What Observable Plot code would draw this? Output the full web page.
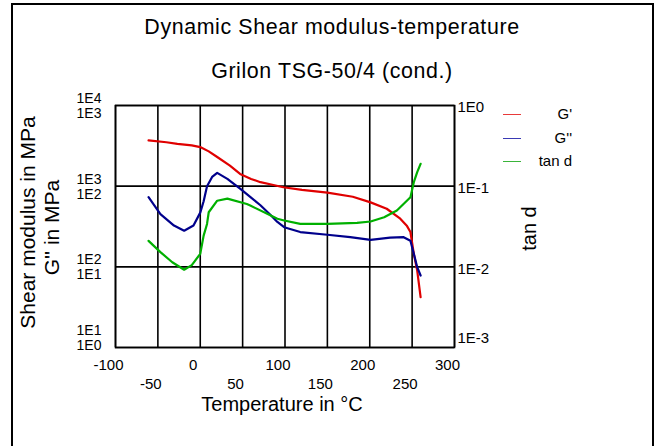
<!DOCTYPE html>
<html>
<head>
<meta charset="utf-8">
<script src="https://cdn.jsdelivr.net/npm/d3@7"></script>
<script src="https://cdn.jsdelivr.net/npm/@observablehq/plot@0.6"></script>
<style>
  body { margin: 0; background: #fff; }
  #wrap { position: relative; width: 660px; height: 446px; overflow: hidden; background: #fff;
          font-family: "Liberation Sans", Arial, sans-serif; color: #000; }
  #border { position: absolute; left: 11px; top: 3px; width: 639px; height: 470px; border: 2px solid #000; }
  .ttl { position: absolute; left: 0; width: 664px; text-align: center; font-size: 21.4px; letter-spacing: 0.6px; }
  #chart { position: absolute; left: 0; top: 85px; }
  .leg { position: absolute; left: 500px; width: 72px; height: 18px; font-size: 15px; }
  .leg span { position: absolute; right: 0; top: 0; }
  .leg i { position: absolute; left: 3px; top: 9px; width: 18px; height: 1px; }
</style>
</head>
<body>
<div id="wrap">
  <div id="border"></div>
  <div class="ttl" style="top:15px">Dynamic Shear modulus-temperature</div>
  <div class="ttl" style="top:59px">Grilon TSG-50/4 (cond.)</div>
  <div id="chart"></div>
  <div id="legend"></div>
</div>
<script>
// ---- data ----
const gpTemp = [-61, -40, -27, -10, 0, 10, 20, 35, 47, 60, 71, 85, 98, 120, 150, 180, 201, 220, 236, 244, 248, 252, 256, 260];
const gpValues = [3700, 3500, 3350, 3200, 3050, 2700, 2300, 1800, 1420, 1230, 1120, 1040, 970, 900, 830, 740, 630, 525, 395, 320, 270, 145, 90, 42];

const gppTemp = [-61, -47, -31, -19, -8, 0, 4, 8, 14, 20, 32, 47, 60, 71, 83, 91, 99, 118, 150, 177, 201, 224, 240, 248, 252, 256, 260];
const gppValues = [73, 45, 32.5, 28, 32.5, 47, 65, 100, 130, 146, 123, 93, 72, 58, 44, 36, 31, 27, 25, 23.3, 21.6, 23, 23.3, 21, 14.5, 9.9, 7.8];

const tandTemp = [-61, -47, -33, -19, -10, 0, 4, 8, 10, 20, 32, 55, 59, 79, 91, 99, 118, 150, 185, 201, 217, 232, 248, 252, 256, 260];
const tandValues = [0.021, 0.0152, 0.0114, 0.0092, 0.0105, 0.0145, 0.0244, 0.034, 0.0475, 0.066, 0.070, 0.060, 0.0575, 0.0454, 0.0394, 0.0375, 0.0341, 0.0341, 0.0351, 0.0365, 0.0412, 0.050, 0.073, 0.112, 0.149, 0.189];

const xTicksRow1 = [-100, 0, 100, 200, 300];
const xTicksRow2 = [-50, 50, 150, 250];
const xGrid = [-100, -50, 0, 50, 100, 150, 200, 250, 300];
const gpTicks = [10000, 1000, 100, 10];
const gpTickLabels = ["1E4", "1E3", "1E2", "1E1"];
const gppTicks = [1000, 100, 10, 1];
const gppTickLabels = ["1E3", "1E2", "1E1", "1E0"];
const tandTicks = [1, 0.1, 0.01, 0.001];
const tandTickLabels = ["1E0", "1E-1", "1E-2", "1E-3"];

const seriesNames = ["G'", "G''", "tan d"];
const seriesColors = ["#e00000", "#00008c", "#00b000"];
const legendColors = ["#e83a3a", "#3a3ab4", "#3ab43a"];

// G'' and tan d are drawn against their own decades, shifted onto the G' log axis
const gppShift = 10, tandShift = 10000;

const gp = gpTemp.map((t, i) => ({t, v: gpValues[i]}));
const gpp = gppTemp.map((t, i) => ({t, v: gppValues[i]}));
const tand = tandTemp.map((t, i) => ({t, v: tandValues[i]}));

const fs = "15px";
const fsl = "14px";
const leftUpper = gpTicks.map((v, i) => ({v, label: gpTickLabels[i]}));
const leftLower = gppTicks.map((v, i) => ({v: v * gppShift, label: gppTickLabels[i]}));
const right = tandTicks.map((v, i) => ({v: v * tandShift, label: tandTickLabels[i]}));

const chart = Plot.plot({
  width: 660,
  height: 361,
  marginLeft: 115,
  marginRight: 206,
  marginTop: 20,
  marginBottom: 99,
  style: {fontFamily: "'Liberation Sans', Arial, sans-serif", fontSize: fs, color: "#000", background: "transparent", overflow: "visible"},
  x: {domain: [-100, 300], axis: null},
  y: {type: "log", domain: [10, 10000], axis: null},
  marks: [
    Plot.ruleX(xGrid, {stroke: "#000", strokeWidth: 1.6}),
    Plot.ruleY(gpTicks, {stroke: "#000", strokeWidth: 1.6}),
    Plot.frame({stroke: "#000", strokeWidth: 1.6}),
    Plot.line(gp, {x: "t", y: "v", stroke: seriesColors[0], strokeWidth: 2.2}),
    Plot.line(gpp, {x: "t", y: d => d.v * gppShift, stroke: seriesColors[1], strokeWidth: 2.2}),
    Plot.line(tand, {x: "t", y: d => d.v * tandShift, stroke: seriesColors[2], strokeWidth: 2.2}),
    // left tick labels (two scales stacked)
    Plot.text(leftUpper.slice(0, 3), {y: "v", text: "label", frameAnchor: "left", textAnchor: "end", lineAnchor: "middle", dx: -14, dy: -7, fontSize: fsl}),
    Plot.text(leftLower.slice(0, 3), {y: "v", text: "label", frameAnchor: "left", textAnchor: "end", lineAnchor: "middle", dx: -14, dy: 8, fontSize: fsl}),
    Plot.text(leftUpper.slice(3), {y: "v", text: "label", frameAnchor: "left", textAnchor: "end", lineAnchor: "middle", dx: -14, dy: -17, fontSize: fsl}),
    Plot.text(leftLower.slice(3), {y: "v", text: "label", frameAnchor: "left", textAnchor: "end", lineAnchor: "middle", dx: -14, dy: -2, fontSize: fsl}),
    // right tick labels
    Plot.text(right.slice(0, 3), {y: "v", text: "label", frameAnchor: "right", textAnchor: "start", lineAnchor: "middle", dx: 3, dy: 2, fontSize: fs}),
    Plot.text(right.slice(3), {y: "v", text: "label", frameAnchor: "right", textAnchor: "start", lineAnchor: "middle", dx: 3, dy: -9, fontSize: fs}),
    // x tick labels, two rows
    Plot.text(xTicksRow1, {x: d => d, text: d => String(d), frameAnchor: "bottom", textAnchor: "middle", lineAnchor: "middle", dx: -7, dy: 18, fontSize: fs}),
    Plot.text(xTicksRow2, {x: d => d, text: d => String(d), frameAnchor: "bottom", textAnchor: "middle", lineAnchor: "middle", dx: -7, dy: 37, fontSize: fs}),
    // axis titles
    Plot.text(["Temperature in °C"], {frameAnchor: "bottom", textAnchor: "middle", lineAnchor: "middle", dx: -3, dy: 57, fontSize: "20px"}),
    Plot.text(["Shear modulus in MPa"], {frameAnchor: "left", textAnchor: "middle", lineAnchor: "middle", rotate: -90, dx: -87, dy: -4, fontSize: "21px"}),
    Plot.text(["G'' in MPa"], {frameAnchor: "left", textAnchor: "middle", lineAnchor: "middle", rotate: -90, dx: -63, dy: 1, fontSize: "21px"}),
    Plot.text(["tan d"], {frameAnchor: "right", textAnchor: "middle", lineAnchor: "middle", rotate: -90, dx: 75, dy: 2, fontSize: "20px"})
  ]
});
document.getElementById("chart").appendChild(chart);

// legend
const legend = document.getElementById("legend");
const legTops = [105, 129, 152];
seriesNames.forEach((name, i) => {
  const row = document.createElement("div");
  row.className = "leg";
  row.style.top = legTops[i] + "px";
  const sw = document.createElement("i");
  sw.style.background = legendColors[i];
  const lab = document.createElement("span");
  lab.textContent = name;
  row.appendChild(sw);
  row.appendChild(lab);
  legend.appendChild(row);
});
</script>
</body>
</html>
